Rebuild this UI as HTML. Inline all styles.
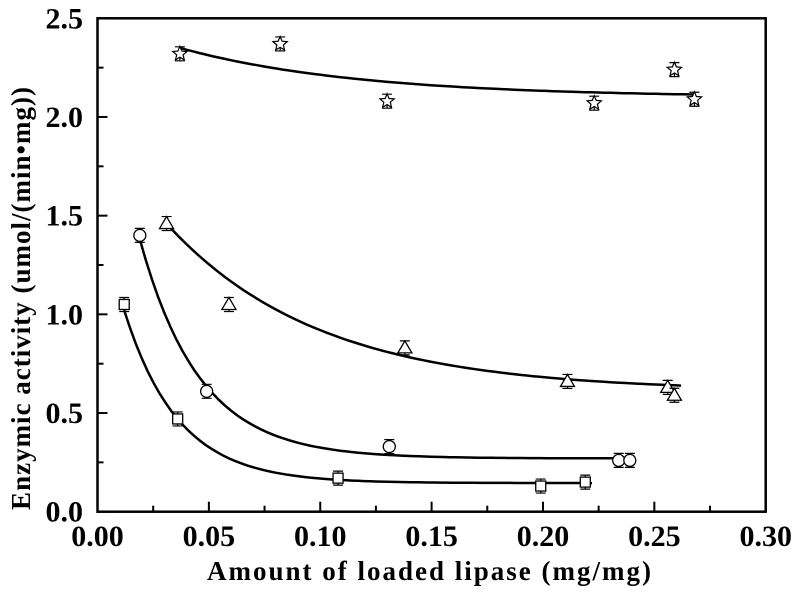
<!DOCTYPE html>
<html><head><meta charset="utf-8"><style>
html,body{margin:0;padding:0;background:#fff;}
svg{display:block;font-family:"Liberation Serif",serif;font-weight:bold;}
</style></head><body>
<svg id="chart" width="798" height="594"></svg>
<script>
const xTicks=[0,0.05,0.10,0.15,0.20,0.25,0.30];
const xTickLabels=["0.00","0.05","0.10","0.15","0.20","0.25","0.30"];
const yTicks=[0,0.5,1.0,1.5,2.0,2.5];
const yTickLabels=["0.0","0.5","1.0","1.5","2.0","2.5"];
const starX=[0.037,0.082,0.130,0.223,0.259,0.268];
const starY=[2.32,2.37,2.08,2.07,2.24,2.09];
const triX=[0.031,0.059,0.138,0.211,0.256,0.259];
const triY=[1.46,1.05,0.83,0.66,0.63,0.59];
const circX=[0.019,0.049,0.131,0.234,0.239];
const circY=[1.40,0.61,0.33,0.26,0.26];
const sqX=[0.012,0.036,0.108,0.199,0.219];
const sqY=[1.05,0.47,0.17,0.13,0.15];
// fit params: [y0, A, t, xstart, xend]
const starFit=[2.10,0.397,0.08,0.037,0.268];
const triFit=[0.61,1.337,0.0684,0.031,0.262];
const circFit=[0.27,2.25,0.0269,0.019,0.237];
const sqFit=[0.145,1.437,0.0242,0.012,0.222];

const L=97.5,R=765.7,T=18.3,B=511.7;
const sx=v=>L+(v-0)/0.30*(R-L);
const sy=v=>B-(v/2.5)*(B-T);
const NS="http://www.w3.org/2000/svg";
const svg=document.getElementById('chart');
function mk(tag,attrs,parent){const e=document.createElementNS(NS,tag);for(const k in attrs)e.setAttribute(k,attrs[k]);(parent||svg).appendChild(e);return e;}

const frame=mk('rect',{x:L,y:T,width:R-L,height:B-T,fill:'none',stroke:'#000','stroke-width':2.5});



for(let i=0;i<xTicks.length;i++){
  const x=sx(xTicks[i]);
  const t=mk('line',{x1:x,x2:x,y1:B,y2:B-10,stroke:'#000','stroke-width':2});
  
  
  if(i<xTicks.length-1){const xm=sx(xTicks[i]+0.025);
    const m=mk('line',{x1:xm,x2:xm,y1:B,y2:B-6,stroke:'#000','stroke-width':2});
    
    }
  const lb=mk('text',{x:x,y:546,'text-anchor':'middle','font-size':30});
  lb.textContent=xTickLabels[i];
  
  
}
for(let i=0;i<yTicks.length;i++){
  const y=sy(yTicks[i]);
  const t=mk('line',{x1:L,x2:L+10,y1:y,y2:y,stroke:'#000','stroke-width':2});
  
  
  if(i<yTicks.length-1){const ym=sy(yTicks[i]+0.25);
    const m=mk('line',{x1:L,x2:L+6,y1:ym,y2:ym,stroke:'#000','stroke-width':2});
    
    }
  const lb=mk('text',{x:83,y:y+10,'text-anchor':'end','font-size':30});
  lb.textContent=yTickLabels[i];
  
  
}
const xt=mk('text',{x:430,y:580,'text-anchor':'middle','font-size':27,'letter-spacing':2});
xt.textContent='Amount of loaded lipase (mg/mg)';


const yt=mk('text',{x:0,y:0,'text-anchor':'middle','font-size':27,'letter-spacing':1,transform:'translate(30,298) rotate(-90)'});
yt.textContent='Enzymic activity (umol/(min•mg))';



function fit(p,name){
  let d='';
  for(let i=0;i<=80;i++){const x=p[3]+(p[4]-p[3])*i/80;const y=p[0]+p[1]*Math.exp(-x/p[2]);d+=(i?'L':'M')+sx(x).toFixed(1)+','+sy(y).toFixed(1);}
  const e=mk('path',{d:d,fill:'none',stroke:'#000','stroke-width':2.5});
  
  
}
fit(starFit,'star-fit-curve');fit(triFit,'triangle-fit-curve');fit(circFit,'circle-fit-curve');fit(sqFit,'square-fit-curve');

function err(x,y){
  const e=mk('path',{d:`M${x-5},${y-7}H${x+5}M${x},${y-7}V${y+7}M${x-5},${y+7}H${x+5}`,stroke:'#000','stroke-width':1.2,fill:'none'});
  
  
}
function starPath(cx,cy,r){let d='';for(let i=0;i<10;i++){const a=-Math.PI/2+i*Math.PI/5;const rr=i%2?r*0.45:r;d+=(i?'L':'M')+(cx+rr*Math.cos(a)).toFixed(1)+','+(cy+rr*Math.sin(a)).toFixed(1);}return d+'Z';}
function markers(xs,ys,kind){
  for(let i=0;i<xs.length;i++){
    const x=sx(xs[i]),y=sy(ys[i]);
    err(x,y);
    let m;
    if(kind==='star')m=mk('path',{d:starPath(x,y,7.5),fill:'#fff',stroke:'#000','stroke-width':1.2});
    else if(kind==='tri')m=mk('path',{d:`M${x},${y-7}L${x+7},${y+5}L${x-7},${y+5}Z`,fill:'#fff',stroke:'#000','stroke-width':1.3});
    else if(kind==='circ')m=mk('circle',{cx:x,cy:y,r:6,fill:'#fff',stroke:'#000','stroke-width':1.3});
    else m=mk('rect',{x:x-5,y:y-5,width:10,height:10,fill:'#fff',stroke:'#000','stroke-width':1.3});
    
    
  }
}
markers(starX,starY,'star');markers(triX,triY,'tri');markers(circX,circY,'circ');markers(sqX,sqY,'sq');
</script>
</body></html>
